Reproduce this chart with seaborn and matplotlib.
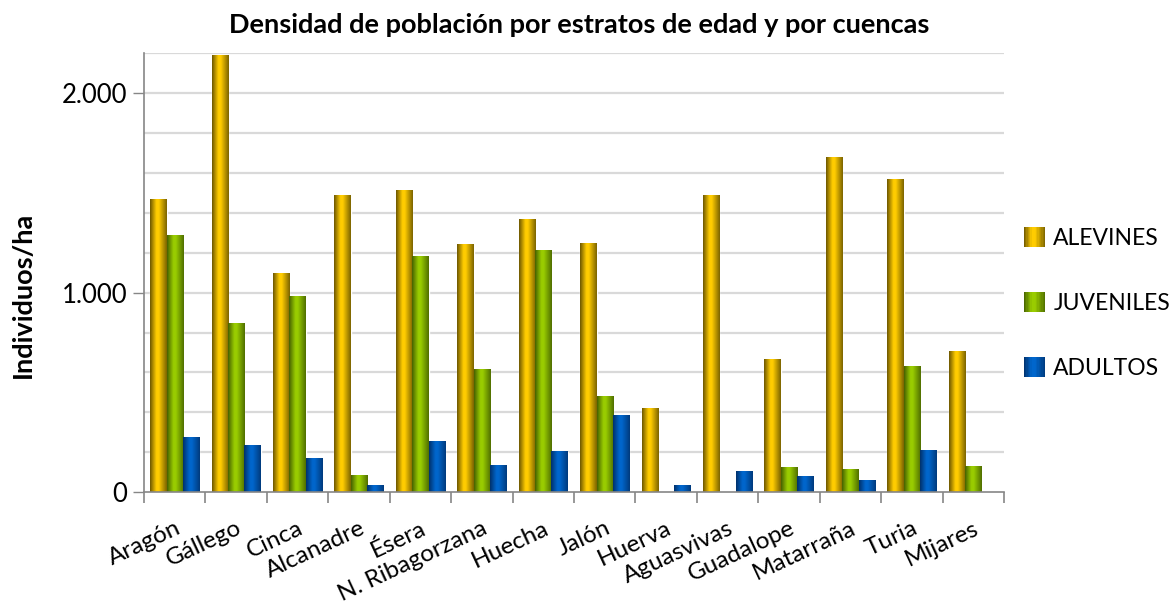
import numpy as np
import pandas as pd
import matplotlib
matplotlib.use("Agg")
import matplotlib.pyplot as plt
from matplotlib.colors import LinearSegmentedColormap
from matplotlib.patches import Patch, Rectangle
from matplotlib.legend_handler import HandlerBase
import seaborn as sns

cuencas = ["Aragón", "Gállego", "Cinca", "Alcanadre", "Ésera", "N. Ribagorzana",
           "Huecha", "Jalón", "Huerva", "Aguasvivas", "Guadalope", "Matarraña",
           "Turia", "Mijares"]
alevines = [1465, 2185, 1094, 1484, 1510, 1239, 1364, 1244, 418, 1484, 663, 1675, 1565, 703]
juveniles = [1284, 843, 978, 82, 1179, 613, 1209, 477, 0, 0, 122, 112, 628, 127]
adultos = [272, 232, 167, 32, 251, 132, 202, 383, 32, 102, 77, 57, 207, 0]
series = ["ALEVINES", "JUVENILES", "ADULTOS"]
y_ticks = [0, 1000, 2000]
y_ticklabels = ["0", "1.000", "2.000"]

sns.set_theme(style="white")
plt.rcParams['font.family'] = ['Lato', 'DejaVu Sans']
plt.rcParams['text.color'] = 'black'
plt.rcParams['axes.labelcolor'] = 'black'

df = pd.DataFrame({
    "cuenca": cuencas * 3,
    "valor": alevines + juveniles + adultos,
    "estrato": [series[0]] * len(cuencas) + [series[1]] * len(cuencas) + [series[2]] * len(cuencas),
})

grad_colors = {
    "ALEVINES": ("#6b5500", "#ffcc00", "#7a6300"),
    "JUVENILES": ("#456000", "#99cc00", "#4f6e00"),
    "ADULTOS": ("#00306a", "#0066cc", "#003a7c"),
}
mid_colors = {k: v[1] for k, v in grad_colors.items()}
cmaps = {k: LinearSegmentedColormap.from_list(k, [(0, c[0]), (0.38, c[1]), (0.52, c[1]), (1, c[2])])
         for k, c in grad_colors.items()}

fig = plt.figure(figsize=(11.7, 6.03), dpi=100)
ax = fig.add_axes([144/1170, 1 - 492.3/603, (1004-144)/1170, (492.3-53)/603])

sns.barplot(data=df, x="cuenca", y="valor", hue="estrato", order=cuencas,
            hue_order=series, palette=mid_colors, width=0.8, saturation=1,
            ax=ax, legend=False, zorder=2)

# gradient overlay on bars
grad = np.linspace(0, 1, 256).reshape(1, -1)
ncat = len(cuencas)
for i, container in enumerate(ax.containers):
    cmap = cmaps[series[i]]
    for bar in container:
        x0, w, h = bar.get_x(), bar.get_width(), bar.get_height()
        if h <= 0:
            continue
        ax.imshow(grad, extent=[x0, x0 + w, 0, h], aspect='auto', cmap=cmap,
                  zorder=3, interpolation='bilinear')

ax.set_xlim(-0.5, ncat - 0.5)
ax.set_ylim(0, 2200)

# grid
for yv in range(200, 2201, 200):
    ax.axhline(yv, color="#d9d9d9", lw=1.6, zorder=1)

ax.set_yticks(y_ticks)
ax.set_yticklabels(y_ticklabels, fontsize=18.5)
ax.tick_params(axis='y', which='major', direction='out', length=8, width=1, color="#868686",
               left=True, pad=4, labelcolor="black")
ax.set_xticks(range(ncat))
ax.set_xticklabels(cuencas, fontsize=17.5, rotation=25, ha='right', rotation_mode='anchor')
ax.tick_params(axis='x', which='major', length=0, pad=18, labelcolor="black")
ax.set_xticks(np.arange(-0.5, ncat, 1), minor=True)
ax.tick_params(axis='x', which='minor', direction='out', length=8, width=1.2, color="#868686", bottom=True)

for s in ["top", "right"]:
    ax.spines[s].set_visible(False)
for s in ["left", "bottom"]:
    ax.spines[s].set_color("#868686")
    ax.spines[s].set_linewidth(1.2)
    ax.spines[s].set_zorder(4)

ax.set_xlabel("")
ax.set_ylabel("Individuos/ha", fontsize=19.5, fontweight='bold', color='black')
ax.yaxis.set_label_coords(-0.127, 0.45)

fig.text(579/1170, 1 - 25/603, "Densidad de población por estratos de edad y por cuencas",
         ha='center', va='center', fontsize=19.5, fontweight='bold', color='black')


class GradientHandler(HandlerBase):
    def create_artists(self, legend, orig_handle, xdescent, ydescent, width, height, fontsize, trans):
        cmap = cmaps[orig_handle.get_label()]
        n = 16
        arts = []
        for k in range(n):
            r = Rectangle((-xdescent + width * k / n, -ydescent), width / n + 0.05, height,
                          facecolor=cmap((k + 0.5) / n), edgecolor='none', transform=trans)
            arts.append(r)
        return arts


handles = [Patch(facecolor=mid_colors[s], label=s) for s in series]
leg = fig.legend(handles=handles, loc='center left', bbox_to_anchor=(1003/1170, 1 - 303/603),
                 frameon=False, fontsize=16.5, handlelength=0.95, handleheight=0.95,
                 handletextpad=0.35, labelspacing=1.9,
                 handler_map={Patch: GradientHandler()})

fig.savefig("out.png", dpi=100)
